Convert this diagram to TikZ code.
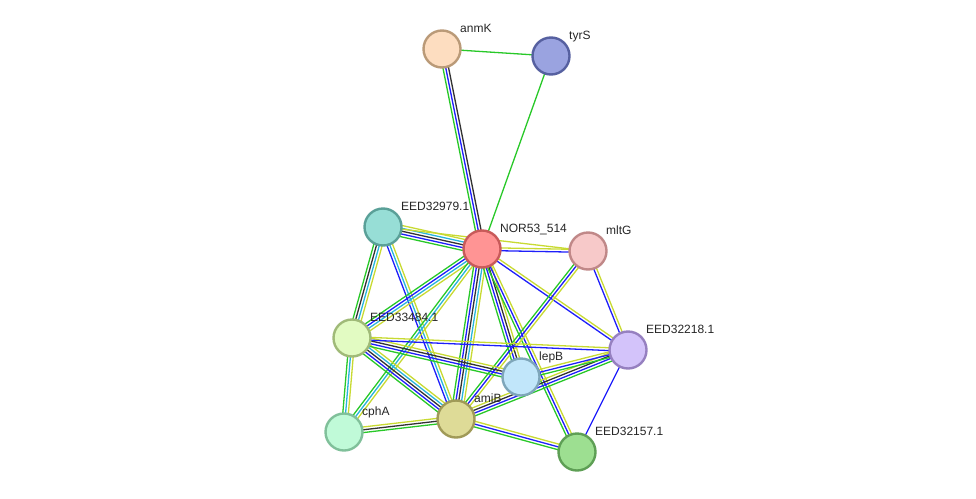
\documentclass[tikz,border=0pt]{standalone}
\usepackage{fontspec}
\setmainfont{Liberation Sans}
\usetikzlibrary{calc,backgrounds}

% evidence colours
\definecolor{nbcol}{RGB}{40,200,40}
\definecolor{cocol}{RGB}{30,30,250}
\definecolor{cxcol}{RGB}{50,50,50}
\definecolor{dbcol}{RGB}{40,180,220}
\definecolor{tmcol}{RGB}{200,218,50}

\tikzset{
  prot/.style={circle, draw, line width=2.4pt, minimum size=37pt, inner sep=0pt},
  lbl/.style={anchor=base west, inner sep=0pt, text=black!85, font=\fontsize{12}{14}\selectfont},
  nb/.style={nbcol, line width=1.3pt},
  co/.style={cocol, line width=1.3pt},
  cx/.style={cxcol, line width=1.3pt},
  db/.style={dbcol, line width=1.3pt},
  tm/.style={tmcol, line width=1.3pt}
}

% bundle of parallel lines between two nodes
\newcommand{\link}[3]{%
  \foreach \c [count=\i] in {#3} {\xdef\nl{\i}}
  \foreach \c [count=\i] in {#3} {
    \pgfmathsetmacro\off{(\i-(\nl+1)/2)*2.8}
    \draw[\c] ($(#1.center)!\off pt!90:(#2.center)$) -- ($(#2.center)!\off pt!-90:(#1.center)$);
  }
}

\begin{document}
\begin{tikzpicture}[x=1pt,y=-1pt]
\useasboundingbox (0,0) rectangle (976,498);

% proteins
\node[prot, fill={rgb,255:red,253;green,221;blue,192}, draw={rgb,255:red,186;green,154;blue,120}] (anmK) at (442,49) {};
\node[prot, fill={rgb,255:red,154;green,163;blue,224}, draw={rgb,255:red,86;green,96;blue,160}] (tyrS) at (551,56) {};
\node[prot, fill={rgb,255:red,151;green,222;blue,214}, draw={rgb,255:red,90;green,160;blue,152}] (e79) at (383,227) {};
\node[prot, fill={rgb,255:red,255;green,148;blue,148}, draw={rgb,255:red,200;green,90;blue,90}] (nor) at (482,249) {};
\node[prot, fill={rgb,255:red,247;green,201;blue,201}, draw={rgb,255:red,192;green,136;blue,136}] (mltG) at (588,251) {};
\node[prot, fill={rgb,255:red,226;green,251;blue,194}, draw={rgb,255:red,160;green,186;blue,120}] (e84) at (352,338) {};
\node[prot, fill={rgb,255:red,211;green,195;blue,250}, draw={rgb,255:red,150;green,128;blue,192}] (e18) at (628,350) {};
\node[prot, fill={rgb,255:red,193;green,230;blue,250}, draw={rgb,255:red,126;green,166;blue,186}] (lepB) at (521,377) {};
\node[prot, fill={rgb,255:red,222;green,219;blue,151}, draw={rgb,255:red,160;green,154;blue,88}] (amiB) at (456,419) {};
\node[prot, fill={rgb,255:red,192;green,250;blue,216}, draw={rgb,255:red,128;green,192;blue,154}] (cphA) at (344,432) {};
\node[prot, fill={rgb,255:red,157;green,223;blue,145}, draw={rgb,255:red,94;green,159;blue,85}] (e57) at (577,452) {};

% names
\node[lbl] (anmK-l) at ([xshift=18pt,yshift=17pt]anmK.center) {anmK};
\node[lbl] (tyrS-l) at ([xshift=18pt,yshift=17pt]tyrS.center) {tyrS};
\node[lbl] (e79-l) at ([xshift=18pt,yshift=17pt]e79.center) {EED32979.1};
\node[lbl] (nor-l) at ([xshift=18pt,yshift=17pt]nor.center) {NOR53\_514};
\node[lbl] (mltG-l) at ([xshift=18pt,yshift=17pt]mltG.center) {mltG};
\node[lbl] (e84-l) at ([xshift=18pt,yshift=17pt]e84.center) {EED33484.1};
\node[lbl] (e18-l) at ([xshift=18pt,yshift=17pt]e18.center) {EED32218.1};
\node[lbl] (lepB-l) at ([xshift=18pt,yshift=17pt]lepB.center) {lepB};
\node[lbl] (amiB-l) at ([xshift=18pt,yshift=17pt]amiB.center) {amiB};
\node[lbl] (cphA-l) at ([xshift=18pt,yshift=17pt]cphA.center) {cphA};
\node[lbl] (e57-l) at ([xshift=18pt,yshift=17pt]e57.center) {EED32157.1};

% interactions
\begin{pgfonlayer}{background}
\link{anmK}{tyrS}{nb}
\link{anmK}{nor}{nb,co,cx}
\link{tyrS}{nor}{nb}
\link{e79}{nor}{nb,co,cx,db,tm}
\link{e79}{mltG}{tm}
\link{nor}{mltG}{co,tm}
\link{e79}{e84}{nb,cx,db,tm}
\link{e79}{amiB}{co,db,tm}
\link{nor}{e84}{nb,co,db,tm}
\link{nor}{cphA}{nb,db,tm}
\link{nor}{amiB}{nb,co,cx,db,tm}
\link{nor}{lepB}{nb,co,cx,tm}
\link{nor}{e57}{nb,co,tm}
\link{nor}{e18}{co,tm}
\link{mltG}{e18}{co,tm}
\link{mltG}{amiB}{nb,co,tm}
\link{e84}{cphA}{nb,db,tm}
\link{e84}{amiB}{nb,co,cx,db,tm}
\link{e84}{lepB}{nb,co,cx,tm}
\link{e84}{e18}{co,tm}
\link{cphA}{amiB}{nb,cx,tm}
\link{amiB}{e57}{nb,co,tm}
\link{amiB}{e18}{nb,co,cx,tm}
\link{lepB}{e18}{nb,co,tm}
\link{e18}{e57}{co}
\end{pgfonlayer}
\end{tikzpicture}
\end{document}
